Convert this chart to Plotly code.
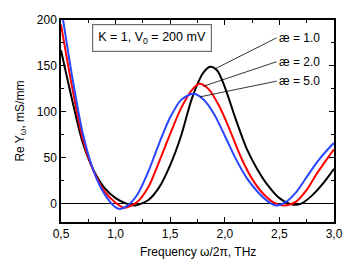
import plotly.graph_objects as go

# --- data ---
f_black = [0.5, 0.6, 0.7, 0.8, 0.9, 1.0, 1.1, 1.18, 1.3, 1.4, 1.5, 1.6, 1.7, 1.8, 1.865, 1.93, 2.0, 2.1, 2.2, 2.3, 2.4, 2.5, 2.62, 2.7, 2.8, 2.9, 3.0]
v_black = [167, 114, 66, 36, 17, 6, 0, -2, 4, 18, 42, 74, 115, 142, 149, 145, 127, 92, 60, 37, 19, 6, -1, 0, 9, 22, 38]

f_red = [0.5, 0.6, 0.7, 0.8, 0.9, 1.0, 1.08, 1.2, 1.3, 1.4, 1.5, 1.6, 1.7, 1.767, 1.85, 1.95, 2.05, 2.15, 2.25, 2.35, 2.45, 2.54, 2.65, 2.75, 2.85, 2.95, 3.0]
v_red = [195, 128, 70, 35, 13, 1, -4.5, 2, 18, 46, 76, 104, 124, 130.5, 125, 106, 79, 50, 27, 11, 1, -2, 2, 15, 34, 51, 59]

f_blue = [0.5, 0.6, 0.7, 0.8, 0.9, 1.0, 1.04, 1.1, 1.2, 1.3, 1.4, 1.5, 1.6, 1.71, 1.8, 1.9, 2.0, 2.1, 2.2, 2.3, 2.4, 2.47, 2.55, 2.65, 2.75, 2.85, 2.95, 3.0]
v_blue = [215, 140, 76, 35, 10, -4, -5.8, -3, 10, 35, 66, 94, 113, 119.6, 114, 98, 74, 49, 28, 13, 2, -2, 1, 12, 29, 46, 60, 66]

x_ticks = [0.5, 1.0, 1.5, 2.0, 2.5, 3.0]
x_ticktext = ["0,5", "1,0", "1,5", "2,0", "2,5", "3,0"]
y_ticks = [0, 50, 100, 150, 200]

labels = ["æ = 1.0", "æ = 2.0", "æ = 5.0"]
label_targets_x = [1.91, 1.803, 1.773]
label_targets_y = [146.8, 127.8, 116.3]
label_pos_y = [180.6, 154.6, 133.4]

FONT = "Liberation Sans, Arial, sans-serif"

fig = go.Figure()
for fx, vy, col in [(f_black, v_black, "black"), (f_red, v_red, "rgb(255,0,0)"), (f_blue, v_blue, "rgb(40,70,255)")]:
    fig.add_trace(go.Scatter(x=fx, y=vy, mode="lines",
                             line=dict(color=col, width=2, shape="spline", smoothing=0.8),
                             showlegend=False, hoverinfo="skip"))

axis_common = dict(showline=True, linecolor="black", linewidth=1.5, mirror="ticks",
                   ticks="inside", ticklen=5, tickwidth=1, tickcolor="black",
                   showgrid=False, automargin=False,
                   tickfont=dict(family=FONT, size=12, color="black"))

fig.update_xaxes(range=[0.5, 3.0], tickvals=x_ticks, ticktext=x_ticktext,
                 minor=dict(ticks="inside", ticklen=3, tickcolor="black", dtick=0.25, tick0=0.5),
                 zeroline=False, **axis_common)
fig.update_yaxes(range=[-20, 200], tickvals=y_ticks,
                 minor=dict(ticks="inside", ticklen=3, tickcolor="black", dtick=25, tick0=0),
                 zeroline=True, zerolinecolor="black", zerolinewidth=1,
                 **axis_common)

annotations = [
    dict(x=1.33, y=180, xref="x", yref="y", text="K = 1, V<sub>0</sub> = 200 mV",
         showarrow=False, font=dict(family=FONT, size=12.5, color="black"),
         bordercolor="rgb(110,110,110)", borderwidth=1.2, borderpad=5, bgcolor="white"),
    dict(x=0.5, y=-0.147, xref="paper", yref="paper", text="Frequency ω/2π, THz",
         showarrow=False, xanchor="center", yanchor="middle",
         font=dict(family=FONT, size=12, color="black")),
    dict(x=-0.148, y=0.5, xref="paper", yref="paper", text="Re Y<sub>ω</sub>, mS/mm",
         showarrow=False, xanchor="center", yanchor="middle", textangle=-90,
         font=dict(family=FONT, size=12, color="black")),
]
shapes = []
for lab, tx, ty, py in zip(labels, label_targets_x, label_targets_y, label_pos_y):
    shapes.append(dict(type="line", xref="x", yref="y", x0=2.475, y0=py, x1=tx, y1=ty,
                       line=dict(color="black", width=0.8)))
    annotations.append(dict(x=2.48, y=py, xref="x", yref="y", text=lab, showarrow=False,
                            xanchor="left", yanchor="middle",
                            font=dict(family=FONT, size=12, color="black")))

# page body adds an 8px offset, so the figure is sized/margined to compensate
fig.update_layout(width=346, height=261, margin=dict(l=53, r=20, t=12, b=47, autoexpand=False),
                  plot_bgcolor="white", paper_bgcolor="white",
                  annotations=annotations, shapes=shapes)

fig.write_html("out.html")
